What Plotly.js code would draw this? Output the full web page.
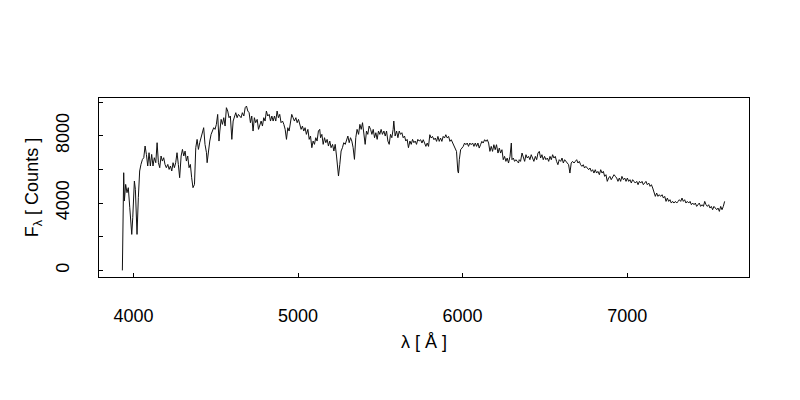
<!DOCTYPE html>
<html>
<head>
<meta charset="utf-8">
<script src="https://cdn.plot.ly/plotly-3.0.1.min.js"></script>
<style>html,body{margin:0;padding:0;background:#fff;}#plot{width:800px;height:400px;}</style>
</head>
<body>
<div id="plot"></div>
<script>
// Wavelength (Angstrom) and flux (counts)
const wavelength = [
3933,3941,3945,3953,3961,3969,3978,3986,3990,3996,4006,4012,4022,4030,4038,4046,4055,4063,4071,4079,4087,4095,4103,4111,4119,4127,4136,4144,4152,4160,4168,4176,4184,4192,4200,4209,4217,4225,4233,4241,4249,4257,4265,4273,4281,4290,4298,4306,4314,4322,4330,4338,4346,4354,4362,4371,4379,4387,4395,4403,4411,4419,4427,4435,4444,4448,4456,4464,4472,4480,4488,4496,4504,4512,4520,
4525,4533,4541,4549,4557,4565,4573,4581,4589,4598,4606,4614,4622,4630,4638,4646,4654,4662,4671,4679,4687,4695,4703,4711,4719,4727,4735,4743,4752,4760,4768,4776,4784,4792,4800,4808,4816,4825,4833,4841,4849,4857,4865,4873,4881,4889,4897,4906,4914,4922,4930,4938,4946,4954,4962,4970,4978,4987,4995,5003,5011,5019,5027,5035,5043,5051,5060,5068,5076,5084,5092,5100,5108,5116,5124,5132,
5137,5145,5153,5161,5169,5177,5185,5193,5201,5210,5218,5226,5234,5242,5246,5254,5262,5270,5278,5287,5295,5303,5311,5319,5327,5335,5343,5351,5359,5368,5376,5384,5392,5400,5408,5416,5424,5432,5441,5449,5457,5465,5473,5481,5489,5497,5505,5513,5522,5530,5538,5546,5554,5562,5570,5578,5582,5590,5599,5607,5615,5623,5631,5639,5647,5655,5663,5671,5680,5688,5696,5704,5712,5720,5728,5736,
5745,5753,5761,5769,5777,5785,5793,5801,5809,5817,5826,5834,5842,5850,5858,5866,5874,5882,5890,5898,5907,5915,5923,5931,5939,5947,5955,5963,5971,5975,5980,5988,5996,6004,6012,6020,6028,6036,6044,6052,6061,6069,6077,6085,6093,6101,6109,6117,6125,6134,6142,6150,6158,6166,6174,6182,6190,6198,6206,6215,6223,6231,6239,6247,6255,6263,6271,6279,6288,6296,6300,6308,6316,6324,6332,6340,
6344,6352,6361,6369,6377,6385,6393,6401,6409,6417,6425,6433,6442,6450,6458,6466,6474,6482,6490,6498,6506,6515,6523,6531,6539,6547,6555,6563,6571,6579,6587,6596,6604,6612,6620,6628,6636,6644,6652,6660,6668,6677,6685,6693,6701,6709,6717,6725,6733,6741,6749,6758,6766,6774,6782,6790,6798,6806,6814,6822,6831,6839,6847,6855,6863,6871,6879,6887,6895,6903,6912,6920,6928,6936,6944,6952,
6960,6968,6977,6985,6993,7001,7009,7017,7025,7033,7041,7049,7058,7066,7074,7082,7090,7098,7106,7114,7122,7131,7139,7147,7155,7163,7171,7179,7187,7195,7203,7212,7220,7228,7236,7244,7252,7260,7268,7276,7284,7293,7301,7309,7317,7325,7333,7341,7349,7357,7365,7374,7382,7390,7398,7406,7414,7422,7430,7438,7446,7455,7463,7471,7479,7487,7495,7503,7511,7519,7527,7536,7544,7552,7560,7568,7576,7584,7592
];
const counts = [
0,5801,4120,5107,4614,4911,3723,2732,2138,3129,5308,4810,2138,4317,5902,6294,6591,6692,7387,6888,6199,6989,6199,6888,6199,6692,6395,7583,6395,6098,6793,6494,6692,6294,6098,6294,5997,6199,5902,6395,6098,6395,6989,6294,5505,6793,7185,6793,7086,6494,6793,6098,6294,5505,4911,5107,7286,7779,7185,7583,7880,8177,8474,7484,6989,6395,7286,7681,8076,8276,8474,8375,8670,9263,7681,
8276,8969,8672,9068,8573,9662,9464,9068,9167,7781,8870,9167,9365,9068,9266,9167,9068,9365,9167,9662,9760,9464,9365,8771,9167,8276,9068,8771,8969,8375,8672,8870,8573,9068,8870,9464,9167,9266,8870,9167,8870,9167,8870,9464,9068,9266,8771,8870,8672,8375,7781,8474,8276,8771,9266,9068,8870,9068,8771,8969,8672,8375,8573,8276,8474,8078,8375,7781,7979,7287,7682,7484,7880,7682,8276,8375,
7880,8078,7484,7880,7583,7781,7385,7682,7287,7484,7089,7484,6792,5802,5604,6297,7089,7287,7583,7484,7781,7979,7583,7880,7682,7287,6594,7880,8375,8078,8672,8375,8771,8078,7484,8276,8078,8573,8375,8078,8375,7880,8177,7781,8276,8078,8375,8078,8276,7979,8276,7682,7484,8078,7880,8375,8870,7979,8276,7880,8276,8078,8177,7880,7979,7682,7781,7287,7682,7484,7781,7583,7682,7484,7781,7682,
7761,7563,7761,7563,7365,7563,7365,8058,7860,7959,7761,7860,7662,7959,7662,7860,7662,7959,7860,8058,7860,7959,7662,7761,7563,7365,7167,7068,5881,5782,6574,7167,7266,7365,7563,7464,7563,7365,7563,7464,7563,7365,7563,7365,7563,7266,7464,7662,7563,7761,7662,7761,7563,7068,7365,7068,7464,7167,7464,6969,7266,6969,7167,6574,6771,6475,6672,6376,6771,7563,6574,6672,6475,6574,6475,6376,
6574,6475,6970,6772,6475,6871,6673,6772,6574,6871,6673,6475,6772,6574,6970,7069,6673,6871,6574,6772,6574,6673,6475,6772,6574,6871,6673,6772,6475,6277,6574,6475,6673,6376,6574,6475,6376,6277,5782,6376,6475,6376,6475,6574,6376,6475,6277,6178,6277,6079,6178,6079,5980,6079,5881,5980,5782,5980,5782,5881,5683,5980,5782,5881,5584,5683,5288,5485,5584,5386,5584,5683,5584,5485,5288,5485,
5287,5584,5386,5485,5287,5485,5287,5386,5188,5386,5287,5188,5287,5089,5287,5188,5287,5089,5188,5287,5089,5188,4990,5089,4891,4693,4396,4594,4396,4495,4396,4495,4297,4396,4099,4297,4099,4198,4000,4099,4000,4099,4000,4099,4198,4099,4297,4099,4198,4000,4099,4000,4099,3901,4000,3901,4000,3802,3901,4000,3802,3901,3802,4099,3901,3802,3901,3703,3802,3604,3802,3703,3604,3703,3505,3802,3604,3802,4099
];
const xTickVals = [4000, 5000, 6000, 7000];
const xTickText = ['4000', '5000', '6000', '7000'];
const yTickVals = [0, 4000, 8000];
const yTickText = ['0', '4000', '8000'];
const yMinorStep = 2000;

const font = {family: '"Liberation Sans", Arial, Helvetica, sans-serif', size: 18, color: '#000'};

const trace = {
  x: wavelength, y: counts, type: 'scatter', mode: 'lines',
  line: {color: '#111', width: 1}, hoverinfo: 'skip'
};

const layout = {
  width: 800, height: 400,
  margin: {l: 99, r: 51, t: 98, b: 123, pad: 0},
  paper_bgcolor: '#fff', plot_bgcolor: '#fff',
  showlegend: false,
  font: font,
  xaxis: {
    range: [3791, 7740], showgrid: false, zeroline: false,
    showline: true, mirror: true, linecolor: '#000', linewidth: 1,
    ticks: 'inside', ticklen: 4, tickwidth: 1, tickcolor: '#000',
    tickvals: xTickVals, ticktext: xTickText, tickfont: font,
    ticklabelstandoff: 22,
    title: {text: 'λ [ Å ]', font: font, standoff: 10}
  },
  yaxis: {
    range: [-392, 10238], showgrid: false, zeroline: false,
    showline: true, mirror: true, linecolor: '#000', linewidth: 1,
    ticks: 'inside', ticklen: 4, tickwidth: 1, tickcolor: '#000',
    tickvals: yTickVals, ticktext: yTickText, tickfont: font,
    minor: {tick0: 0, dtick: yMinorStep, ticks: 'inside', ticklen: 4, tickwidth: 1, tickcolor: '#000', showgrid: false},
    tickangle: -90, ticklabelstandoff: 22,
    title: {text: 'F<sub>λ</sub> [ Counts ]', font: font, standoff: 9}
  }
};

Plotly.newPlot('plot', [trace], layout, {staticPlot: true, displayModeBar: false});
</script>
</body>
</html>
